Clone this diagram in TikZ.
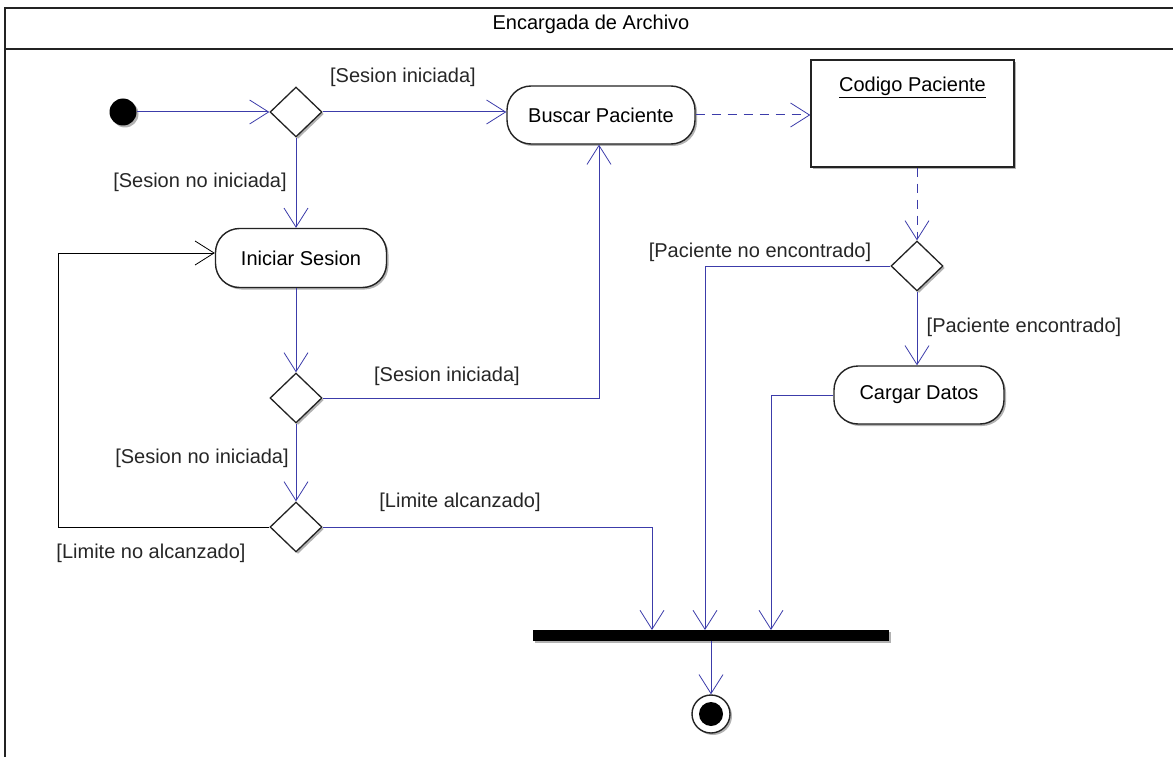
\documentclass[tikz,border=0pt]{standalone}
\usepackage{fontspec}
\setmainfont{Liberation Sans}
\usetikzlibrary{arrows.meta,shapes.geometric,shadows}
\definecolor{flow}{RGB}{60,60,170}
\definecolor{edge}{RGB}{35,35,35}

\begin{document}
\begin{tikzpicture}[x=1pt,y=-1pt,
  every node/.style={font=\fontsize{20pt}{24pt}\selectfont},
  shade/.style={drop shadow={shadow xshift=2pt,shadow yshift=-2pt,opacity=0.3,fill=black}},
  action/.style={draw=edge,line width=1.4pt,fill=white,rounded corners=24pt,
    minimum height=58pt,inner sep=0pt,shade},
  choice/.style={diamond,draw=edge,line width=1.3pt,fill=white,
    minimum width=52pt,minimum height=50pt,inner sep=0pt,shade},
  tip/.style={-{Straight Barb[length=19pt,width=24pt,line width=0.8pt]}},
  flowline/.style={draw=flow,line width=1pt,tip},
  depend/.style={draw=flow,line width=1pt,dash pattern=on 9pt off 7pt,tip},
  loopback/.style={draw=black,line width=1pt,tip},
  guard/.style={inner sep=0pt,text=black!85}
]
\useasboundingbox (0,0) rectangle (1173,757);
\clip (0,0) rectangle (1173,757);

% swimlane frame and its title
\draw[edge,line width=1.6pt] (5,780) |- (1190,8);
\draw[edge,line width=1.6pt] (5,49) -- (1190,49);
\node (title) at (591,24) {Encargada de Archivo};

% activity nodes
\node[circle,fill=black,minimum size=27pt,inner sep=0pt,shade] (init) at (123,112) {};
\node[choice] (d1) at (296,112) {};
\node[action,minimum width=188pt] (buscar) at (601,115) {Buscar Paciente};
\node[draw=edge,line width=1.4pt,fill=white,minimum width=203pt,minimum height=107pt,
  inner sep=0pt,shade,
  label={[name=codigotitle,anchor=center,yshift=-28pt]north:\underline{Codigo Paciente}}]
  (codigo) at (912.5,113.5) {};
\node[choice] (d2) at (917,266) {};
\node[action,minimum width=170pt] (cargar) at (919,395) {Cargar Datos};
\node[action,minimum width=171pt,minimum height=59pt] (iniciar) at (301,258) {Iniciar Sesion};
\node[choice] (d3) at (296,398) {};
\node[choice] (d4) at (296,527) {};
\node[fill=black,minimum width=356pt,minimum height=11pt,inner sep=0pt,shade] (bar) at (711,635.5) {};
\node[circle,draw=edge,line width=1.4pt,fill=white,minimum size=38pt,inner sep=0pt,shade,
  path picture={\fill[black] (path picture bounding box.center) circle (12pt);}]
  (final) at (711,714) {};

% entry points on the join bar
\coordinate (j1) at (652,630);
\coordinate (j2) at (705,630);
\coordinate (j3) at (771,630);
\coordinate (lp) at (58,253);

% control flow
\draw[flowline] (init.east) -- (d1.west);
\draw[flowline] (d1.east) -- (d1.east -| buscar.west)
  node[guard] at (403,77) {[Sesion iniciada]};
\draw[flowline] (d1.south) -- (d1.south |- iniciar.north)
  node[guard] at (200,182) {[Sesion no iniciada]};
\draw[depend] (buscar.east) -- (buscar.east -| codigo.west);
\draw[depend] (d2.north |- codigo.south) -- (d2.north);
\draw[flowline] (d2.west) -| (j2)
  node[guard] at (760,252) {[Paciente no encontrado]};
\draw[flowline] (d2.south) -- (d2.south |- cargar.north)
  node[guard] at (1024,327) {[Paciente encontrado]};
\draw[flowline] (cargar.west) -| (j3);
\draw[flowline] (d3.north |- iniciar.south) -- (d3.north);
\draw[flowline] (d3.east) -| ([xshift=-2pt]buscar.south)
  node[guard] at (447,376) {[Sesion iniciada]};
\draw[flowline] (d3.south) -- (d4.north)
  node[guard] at (202,458) {[Sesion no iniciada]};
\draw[flowline] (d4.east) -| (j1)
  node[guard] at (460,502) {[Limite alcanzado]};
\draw[loopback] (d4.west) -| (lp) -- (iniciar.west |- lp)
  node[guard] at (151,553) {[Limite no alcanzado]};
\draw[flowline] (bar.south) -- (final.north);
\end{tikzpicture}
\end{document}
